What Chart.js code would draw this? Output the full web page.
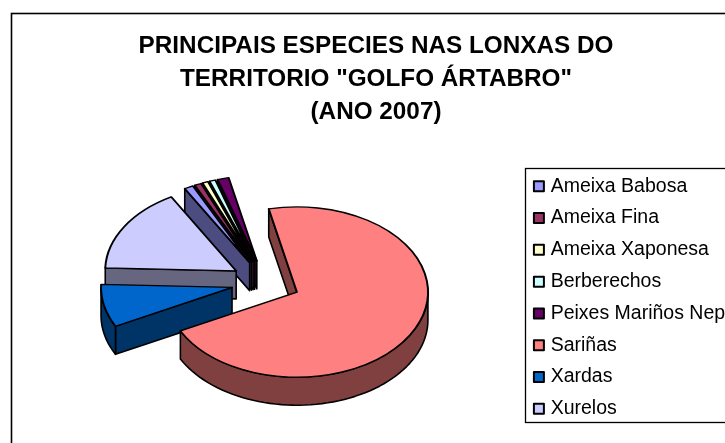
<!DOCTYPE html>
<html><head><meta charset="utf-8">
<style>html,body{margin:0;padding:0;background:#fff;overflow:hidden}canvas{display:block}</style>
<script src="https://cdn.jsdelivr.net/npm/chart.js@4/dist/chart.umd.min.js"></script>
</head><body><canvas id="c" width="725" height="443"></canvas>
<script>
const titleLines = ['PRINCIPAIS ESPECIES NAS LONXAS DO', 'TERRITORIO "GOLFO ÁRTABRO"', '(ANO 2007)'];
const categories = ['Ameixa Babosa','Ameixa Fina','Ameixa Xaponesa','Berberechos','Peixes Mariños Nep','Sariñas','Xardas','Xurelos'];
const shares = [1.11,0.83,0.72,0.75,1.39,70.9,8.1,16.2];
const topColours = ['#9999FF','#993366','#FFFFCC','#CCFFFF','#660066','#FF8080','#0066CC','#CCCCFF'];
const sideColours = ['#4C4C80','#4C1933','#808066','#668080','#330033','#804040','#003366','#666680'];
const paintOrder = [4,3,2,1,0,7,6,5];

const SQUASH = 0.65, DEPTH = 28, EXPLODE = 34.5;

const pie3d = {
  id: 'pie3d',
  afterLayout(chart) {
    const t = chart.titleBlock;
    t.left = 27; t.right = 725;
    const l = chart.legend;
    l.left = 524.6; l.top = 164.2; l.right = 800; l.bottom = 443;
    l.adjustHitBoxes();
  },
  beforeDraw(chart) {
    const c = chart.ctx;
    c.save();
    c.strokeStyle = '#000'; c.lineWidth = 1.6;
    c.strokeRect(11.5, 13.5, 900, 900);
    c.lineWidth = 1.3;
    c.strokeRect(525.5, 168.5, 400, 254);
    c.restore();
  },
  beforeDatasetDraw(chart, args) {
    const c = chart.ctx;
    const arcs = args.meta.data;
    paintOrder.forEach(i => {
      const a = arcs[i];
      const mid = (a.startAngle + a.endAngle) / 2;
      const ox = a.x + EXPLODE * Math.cos(mid);
      const oy = a.y + SQUASH * EXPLODE * Math.sin(mid);
      const r = a.outerRadius;
      const px = t => ox + r * Math.cos(t);
      const py = t => oy + SQUASH * r * Math.sin(t);
      c.save();
      c.fillStyle = sideColours[i];
      c.strokeStyle = '#000';
      c.lineWidth = 1.6;
      c.lineJoin = 'round';
      const faces = [];
      if (Math.cos(a.startAngle) < 0) faces.push(a.startAngle);
      if (Math.cos(a.endAngle) > 0) faces.push(a.endAngle);
      faces.forEach(t => {
        c.beginPath();
        c.moveTo(ox, oy);
        c.lineTo(px(t), py(t));
        c.lineTo(px(t), py(t) + DEPTH);
        c.lineTo(ox, oy + DEPTH);
        c.closePath();
        c.fill(); c.stroke();
      });
      for (let n = -1; n < 3; n++) {
        const s = Math.max(a.startAngle, n * 2 * Math.PI);
        const e = Math.min(a.endAngle, n * 2 * Math.PI + Math.PI);
        if (e <= s) continue;
        c.beginPath();
        const steps = 60;
        for (let k = 0; k <= steps; k++) {
          const t = s + (e - s) * k / steps;
          c[k ? 'lineTo' : 'moveTo'](px(t), py(t));
        }
        for (let k = steps; k >= 0; k--) {
          const t = s + (e - s) * k / steps;
          c.lineTo(px(t), py(t) + DEPTH);
        }
        c.closePath();
        c.fill(); c.stroke();
      }
      c.translate(ox, oy);
      c.scale(1, SQUASH);
      c.translate(-a.x, -a.y);
      a.draw(c);
      c.restore();
    });
    return false;
  }
};

new Chart(document.getElementById('c'), {
  type: 'pie',
  plugins: [pie3d],
  data: {
    labels: categories,
    datasets: [{
      data: shares,
      backgroundColor: topColours,
      borderColor: '#000',
      borderWidth: 2,
      borderJoinStyle: 'round',
      hoverOffset: 0
    }]
  },
  options: {
    responsive: false,
    animation: false,
    events: [],
    rotation: 330.3,
    radius: 131,
    layout: { padding: { top: 0, left: 0, right: 193.6, bottom: 6.5 } },
    plugins: {
      tooltip: { enabled: false },
      title: {
        display: true,
        text: titleLines,
        color: '#000',
        font: { family: '"Liberation Sans"', size: 24.3, weight: 'bold', lineHeight: 33 / 24.3 },
        padding: { top: 29.5, bottom: 0 }
      },
      legend: {
        display: true,
        position: 'chartArea',
        align: 'start',
        labels: {
          color: '#000',
          font: { family: '"Liberation Sans"', size: 19.5 },
          usePointStyle: true,
          pointStyle: 'rect',
          boxWidth: 4,
          boxHeight: 10,
          padding: 12.3
        }
      }
    }
  }
});
</script></body></html>
